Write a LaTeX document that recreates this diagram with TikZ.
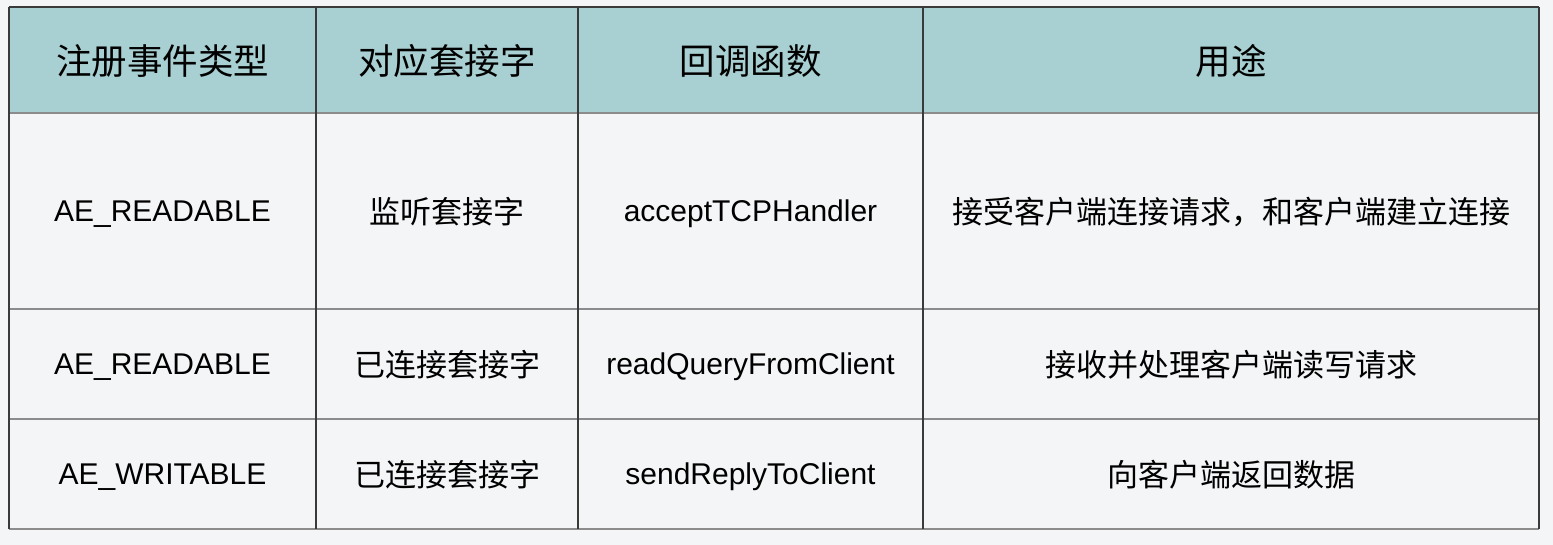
\documentclass[tikz,border=0pt]{standalone}
\usepackage{fontspec}
\setmainfont{Noto Sans CJK SC}
\newfontfamily\latinfont{Liberation Sans}
\usetikzlibrary{positioning}
\definecolor{headbg}{HTML}{A8CFD1}
\definecolor{pagebg}{HTML}{F4F5F7}
\definecolor{vrule}{HTML}{3A3A3A}
\definecolor{hrule}{HTML}{8C8C8C}

\begin{document}
\begin{tikzpicture}[x=1pt,y=-1pt,
	head/.style={font=\fontsize{35.5}{40}\selectfont},
	cell/.style={font=\fontsize{31}{36}\selectfont},
	code/.style={font=\latinfont\fontsize{30}{36}\selectfont}]
	\fill[pagebg] (0,0) rectangle (1553,545);
	\coordinate (A) at (9,7);
	\coordinate (B) at (1539,529);
	\fill[headbg] (A) rectangle (1539,113);

	% rules
	\foreach \y in {113,309,419}
		\draw[hrule,line width=1.5pt] (9,\y) -- (1539,\y);
	\draw[hrule,line width=1.5pt] (9,529) -- (B);
	\draw[vrule,line width=1.2pt] (A) -- (1539,7);
	\foreach \x in {316,578,923}
		\draw[vrule,line width=1.2pt] (\x,7) -- (\x,529);
	\draw[vrule,line width=1.2pt] (A) -- (9,529);
	\draw[vrule,line width=1.5pt] (1539,7) -- (B);

	% header
	\node[head] (h1) at (162.5,61) {注册事件类型};
	\node[head] (h2) at (447,61) {对应套接字};
	\node[head] (h3) at (750.5,61) {回调函数};
	\node[head] (h4) at (1231,61) {用途};

	% rows
	\node[code] (r1a) at (162.5,214) {AE\_READABLE};
	\node[cell] (r1b) at (447,212) {监听套接字};
	\node[code] (r1c) at (750.5,214) {acceptTCPHandler};
	\node[cell] (r1d) at (1231,212) {接受客户端连接请求，和客户端建立连接};

	\node[code] (r2a) at (162.5,367) {AE\_READABLE};
	\node[cell] (r2b) at (447,365) {已连接套接字};
	\node[code] (r2c) at (750.5,367) {readQueryFromClient};
	\node[cell] (r2d) at (1231,365) {接收并处理客户端读写请求};

	\node[code] (r3a) at (162.5,477) {AE\_WRITABLE};
	\node[cell] (r3b) at (447,475) {已连接套接字};
	\node[code] (r3c) at (750.5,477) {sendReplyToClient};
	\node[cell] (r3d) at (1231,475) {向客户端返回数据};
\end{tikzpicture}
\end{document}
